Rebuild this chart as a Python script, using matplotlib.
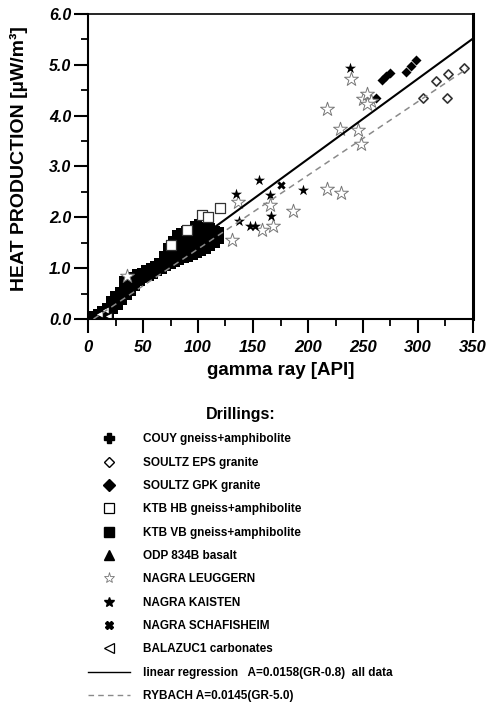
import matplotlib
matplotlib.use("Agg")
import matplotlib.pyplot as plt
from matplotlib.lines import Line2D
from matplotlib.ticker import MultipleLocator

plt.rcParams['font.family'] = ['Liberation Sans', 'DejaVu Sans']

# KTB VB gneiss+amphibolite -- the dense black cloud (filled squares)
ktb_vb_gr = [4, 4, 8, 8, 12, 12, 12, 16, 16, 16, 20, 20, 20, 20,
             24, 24, 24, 24, 28, 28, 28, 28, 32, 32, 32, 32, 32,
             36, 36, 36, 36, 40, 40, 40, 40, 44, 44, 44, 44,
             48, 48, 48, 52, 52, 52, 56, 56, 56, 60, 60, 60, 64, 64, 64,
             68, 68, 68, 68, 72, 72, 72, 72, 72, 76, 76, 76, 76, 76, 76,
             80, 80, 80, 80, 80, 80, 80, 84, 84, 84, 84, 84, 84, 84,
             88, 88, 88, 88, 88, 88, 88, 92, 92, 92, 92, 92, 92, 92,
             96, 96, 96, 96, 96, 96, 96, 100, 100, 100, 100, 100, 100, 100,
             104, 104, 104, 104, 104, 104, 108, 108, 108, 108, 108, 108,
             112, 112, 112, 112, 112, 116, 116, 116, 116, 120, 120, 120]
ktb_vb_hp = [0.02, 0.08, 0.04, 0.12, 0.04, 0.12, 0.18, 0.06, 0.16, 0.24, 0.10, 0.20, 0.30, 0.38,
             0.18, 0.28, 0.38, 0.48, 0.26, 0.36, 0.46, 0.56, 0.36, 0.46, 0.56, 0.66, 0.76,
             0.46, 0.56, 0.66, 0.76, 0.54, 0.64, 0.74, 0.84, 0.62, 0.72, 0.82, 0.90,
             0.72, 0.82, 0.92, 0.78, 0.88, 0.98, 0.82, 0.92, 1.02, 0.86, 0.96, 1.06, 0.92, 1.02, 1.12,
             0.96, 1.06, 1.16, 1.26, 1.02, 1.12, 1.22, 1.32, 1.42, 1.06, 1.16, 1.26, 1.36, 1.46, 1.56,
             1.10, 1.20, 1.30, 1.40, 1.50, 1.60, 1.68, 1.14, 1.24, 1.34, 1.44, 1.54, 1.64, 1.72,
             1.18, 1.28, 1.38, 1.48, 1.58, 1.68, 1.76, 1.20, 1.30, 1.40, 1.50, 1.60, 1.70, 1.78,
             1.24, 1.34, 1.44, 1.54, 1.64, 1.74, 1.84, 1.28, 1.38, 1.48, 1.58, 1.68, 1.78, 1.88,
             1.32, 1.42, 1.52, 1.62, 1.72, 1.82, 1.36, 1.46, 1.56, 1.66, 1.76, 1.86,
             1.42, 1.52, 1.62, 1.72, 1.80, 1.48, 1.58, 1.68, 1.76, 1.56, 1.66, 1.74]

couy_gr = [38, 46, 55, 62, 70]
couy_hp = [0.72, 0.80, 0.95, 1.04, 1.14]

soultz_eps_gr = [304.5, 316, 327, 326, 342]
soultz_eps_hp = [4.34, 4.68, 4.81, 4.34, 4.94]

soultz_gpk_gr = [262, 267.6, 271.3, 274.3, 288.8, 294, 298.5]
soultz_gpk_hp = [4.35, 4.70, 4.78, 4.83, 4.85, 4.97, 5.09]

ktb_hb_gr = [104, 109, 120, 90, 75]
ktb_hb_hp = [2.05, 2.00, 2.18, 1.76, 1.46]

odp_gr = [5, 8, 11, 14]
odp_hp = [0.03, 0.06, 0.08, 0.12]

leuggern_gr = [239, 217, 250, 254, 257, 254, 229, 245.5, 248, 217, 230,
               186, 131, 158, 168, 165, 136, 35]
leuggern_hp = [4.73, 4.13, 4.32, 4.42, 4.28, 4.22, 3.74, 3.72, 3.45, 2.55, 2.47,
               2.13, 1.55, 1.75, 1.82, 2.25, 2.31, 0.84]

kaisten_gr = [238, 135, 155, 165, 166, 195, 137, 147, 152]
kaisten_hp = [4.94, 2.45, 2.74, 2.44, 2.03, 2.54, 1.93, 1.82, 1.82]

schafisheim_gr = [175, 85, 97]
schafisheim_hp = [2.63, 1.52, 1.60]

balazuc_gr = [10, 15, 18]
balazuc_hp = [0.10, 0.18, 0.06]

# regression lines A = a * (GR - b)
fit_a, fit_b, fit_end = 0.0158, 0.8, 350
rybach_a, rybach_b, rybach_end = 0.0145, 5.0, 345

W, H = 489, 703
fig = plt.figure(figsize=(W / 100, H / 100), dpi=100)
ax = fig.add_axes([88 / W, 1 - 319 / H, 385 / W, 305 / H])

ax.scatter(ktb_vb_gr, ktb_vb_hp, marker='s', s=38, c='black', linewidths=0, zorder=2)
ax.scatter(couy_gr, couy_hp, marker='P', s=40, c='black', linewidths=0, zorder=2)
ax.scatter(odp_gr, odp_hp, marker='^', s=30, c='black', linewidths=0, zorder=2)
ax.scatter(balazuc_gr, balazuc_hp, marker='<', s=30, facecolors='white',
           edgecolors='black', linewidths=0.8, zorder=2)
ax.scatter(schafisheim_gr, schafisheim_hp, marker='X', s=36, c='black', linewidths=0, zorder=3)
ax.scatter(ktb_hb_gr, ktb_hb_hp, marker='s', s=50, facecolors='white',
           edgecolors='#333333', linewidths=0.9, zorder=3)
ax.scatter(soultz_eps_gr, soultz_eps_hp, marker='D', s=22, facecolors='white',
           edgecolors='#333333', linewidths=1.2, zorder=3)
ax.scatter(soultz_gpk_gr, soultz_gpk_hp, marker='D', s=26, c='black', linewidths=0, zorder=3)
ax.scatter(leuggern_gr, leuggern_hp, marker='*', s=110, facecolors='white',
           edgecolors='#777777', linewidths=0.7, zorder=3)
ax.scatter(kaisten_gr, kaisten_hp, marker='*', s=70, c='black', linewidths=0, zorder=4)

ax.plot([fit_b, fit_end], [0, fit_a * (fit_end - fit_b)], color='black', lw=1.5, zorder=5)
ax.plot([rybach_b, rybach_end], [0, rybach_a * (rybach_end - rybach_b)], color='#8a8a8a',
        lw=1.1, dashes=(4, 3), zorder=5)

ax.set_xlim(0, 350)
ax.set_ylim(0, 6.0)
ax.xaxis.set_major_locator(MultipleLocator(50))
ax.xaxis.set_minor_locator(MultipleLocator(25))
ax.yaxis.set_major_locator(MultipleLocator(1.0))
ax.yaxis.set_minor_locator(MultipleLocator(0.5))
ax.yaxis.set_major_formatter(lambda v, p: f"{v:.1f}")
ax.tick_params(which='major', length=10, width=1.5, direction='out')
ax.tick_params(which='minor', length=5, width=1.3, direction='out')
ax.tick_params(axis='x', which='major', pad=5, labelsize=12)
ax.tick_params(axis='y', which='major', pad=2, labelsize=11.5)
for lab in ax.get_xticklabels() + ax.get_yticklabels():
    lab.set_fontweight('bold')
    lab.set_fontstyle('italic')
ax.spines['left'].set_linewidth(1.5)
ax.spines['bottom'].set_linewidth(1.5)
ax.spines['right'].set_linewidth(2.2)
ax.spines['top'].set_linewidth(1.2)

ax.set_xlabel('gamma ray [API]', fontsize=13.5, fontweight='bold', labelpad=5)
ax.set_ylabel('HEAT PRODUCTION [µW/m³]', fontsize=14, fontweight='bold')
ax.yaxis.set_label_coords(-0.155, 0.526)

handles = [
    Line2D([], [], ls='none', marker='P', ms=7, mfc='black', mec='black'),
    Line2D([], [], ls='none', marker='D', ms=5, mfc='white', mec='black', mew=1.0),
    Line2D([], [], ls='none', marker='D', ms=6, mfc='black', mec='black'),
    Line2D([], [], ls='none', marker='s', ms=7, mfc='white', mec='black', mew=0.9),
    Line2D([], [], ls='none', marker='s', ms=7, mfc='black', mec='black'),
    Line2D([], [], ls='none', marker='^', ms=6.5, mfc='black', mec='black'),
    Line2D([], [], ls='none', marker='*', ms=8, mfc='white', mec='#777777', mew=0.6),
    Line2D([], [], ls='none', marker='*', ms=7, mfc='black', mec='black'),
    Line2D([], [], ls='none', marker='X', ms=6, mfc='black', mec='black'),
    Line2D([], [], ls='none', marker='<', ms=6.5, mfc='white', mec='black', mew=0.9),
    Line2D([], [], color='black', lw=1.0),
    Line2D([], [], color='#8a8a8a', lw=1.0, dashes=(4, 3)),
]
labels = [
    'COUY gneiss+amphibolite',
    'SOULTZ EPS granite',
    'SOULTZ GPK granite',
    'KTB HB gneiss+amphibolite',
    'KTB VB gneiss+amphibolite',
    'ODP 834B basalt',
    'NAGRA LEUGGERN',
    'NAGRA KAISTEN',
    'NAGRA SCHAFISHEIM',
    'BALAZUC1 carbonates',
    'linear regression   A=0.0158(GR-0.8)  all data',
    'RYBACH A=0.0145(GR-5.0)',
]
leg = fig.legend(handles, labels, loc='upper left', bbox_to_anchor=(88 / W, 1 - 407 / H),
                 frameon=False, title='Drillings:',
                 prop={'weight': 'bold', 'size': 8.5},
                 handlelength=3.55, handletextpad=1.1, labelspacing=0.96,
                 borderpad=0, borderaxespad=0)
leg.get_title().set_fontsize(11.5)
leg.get_title().set_fontweight('bold')

fig.savefig('out.png', dpi=100)
